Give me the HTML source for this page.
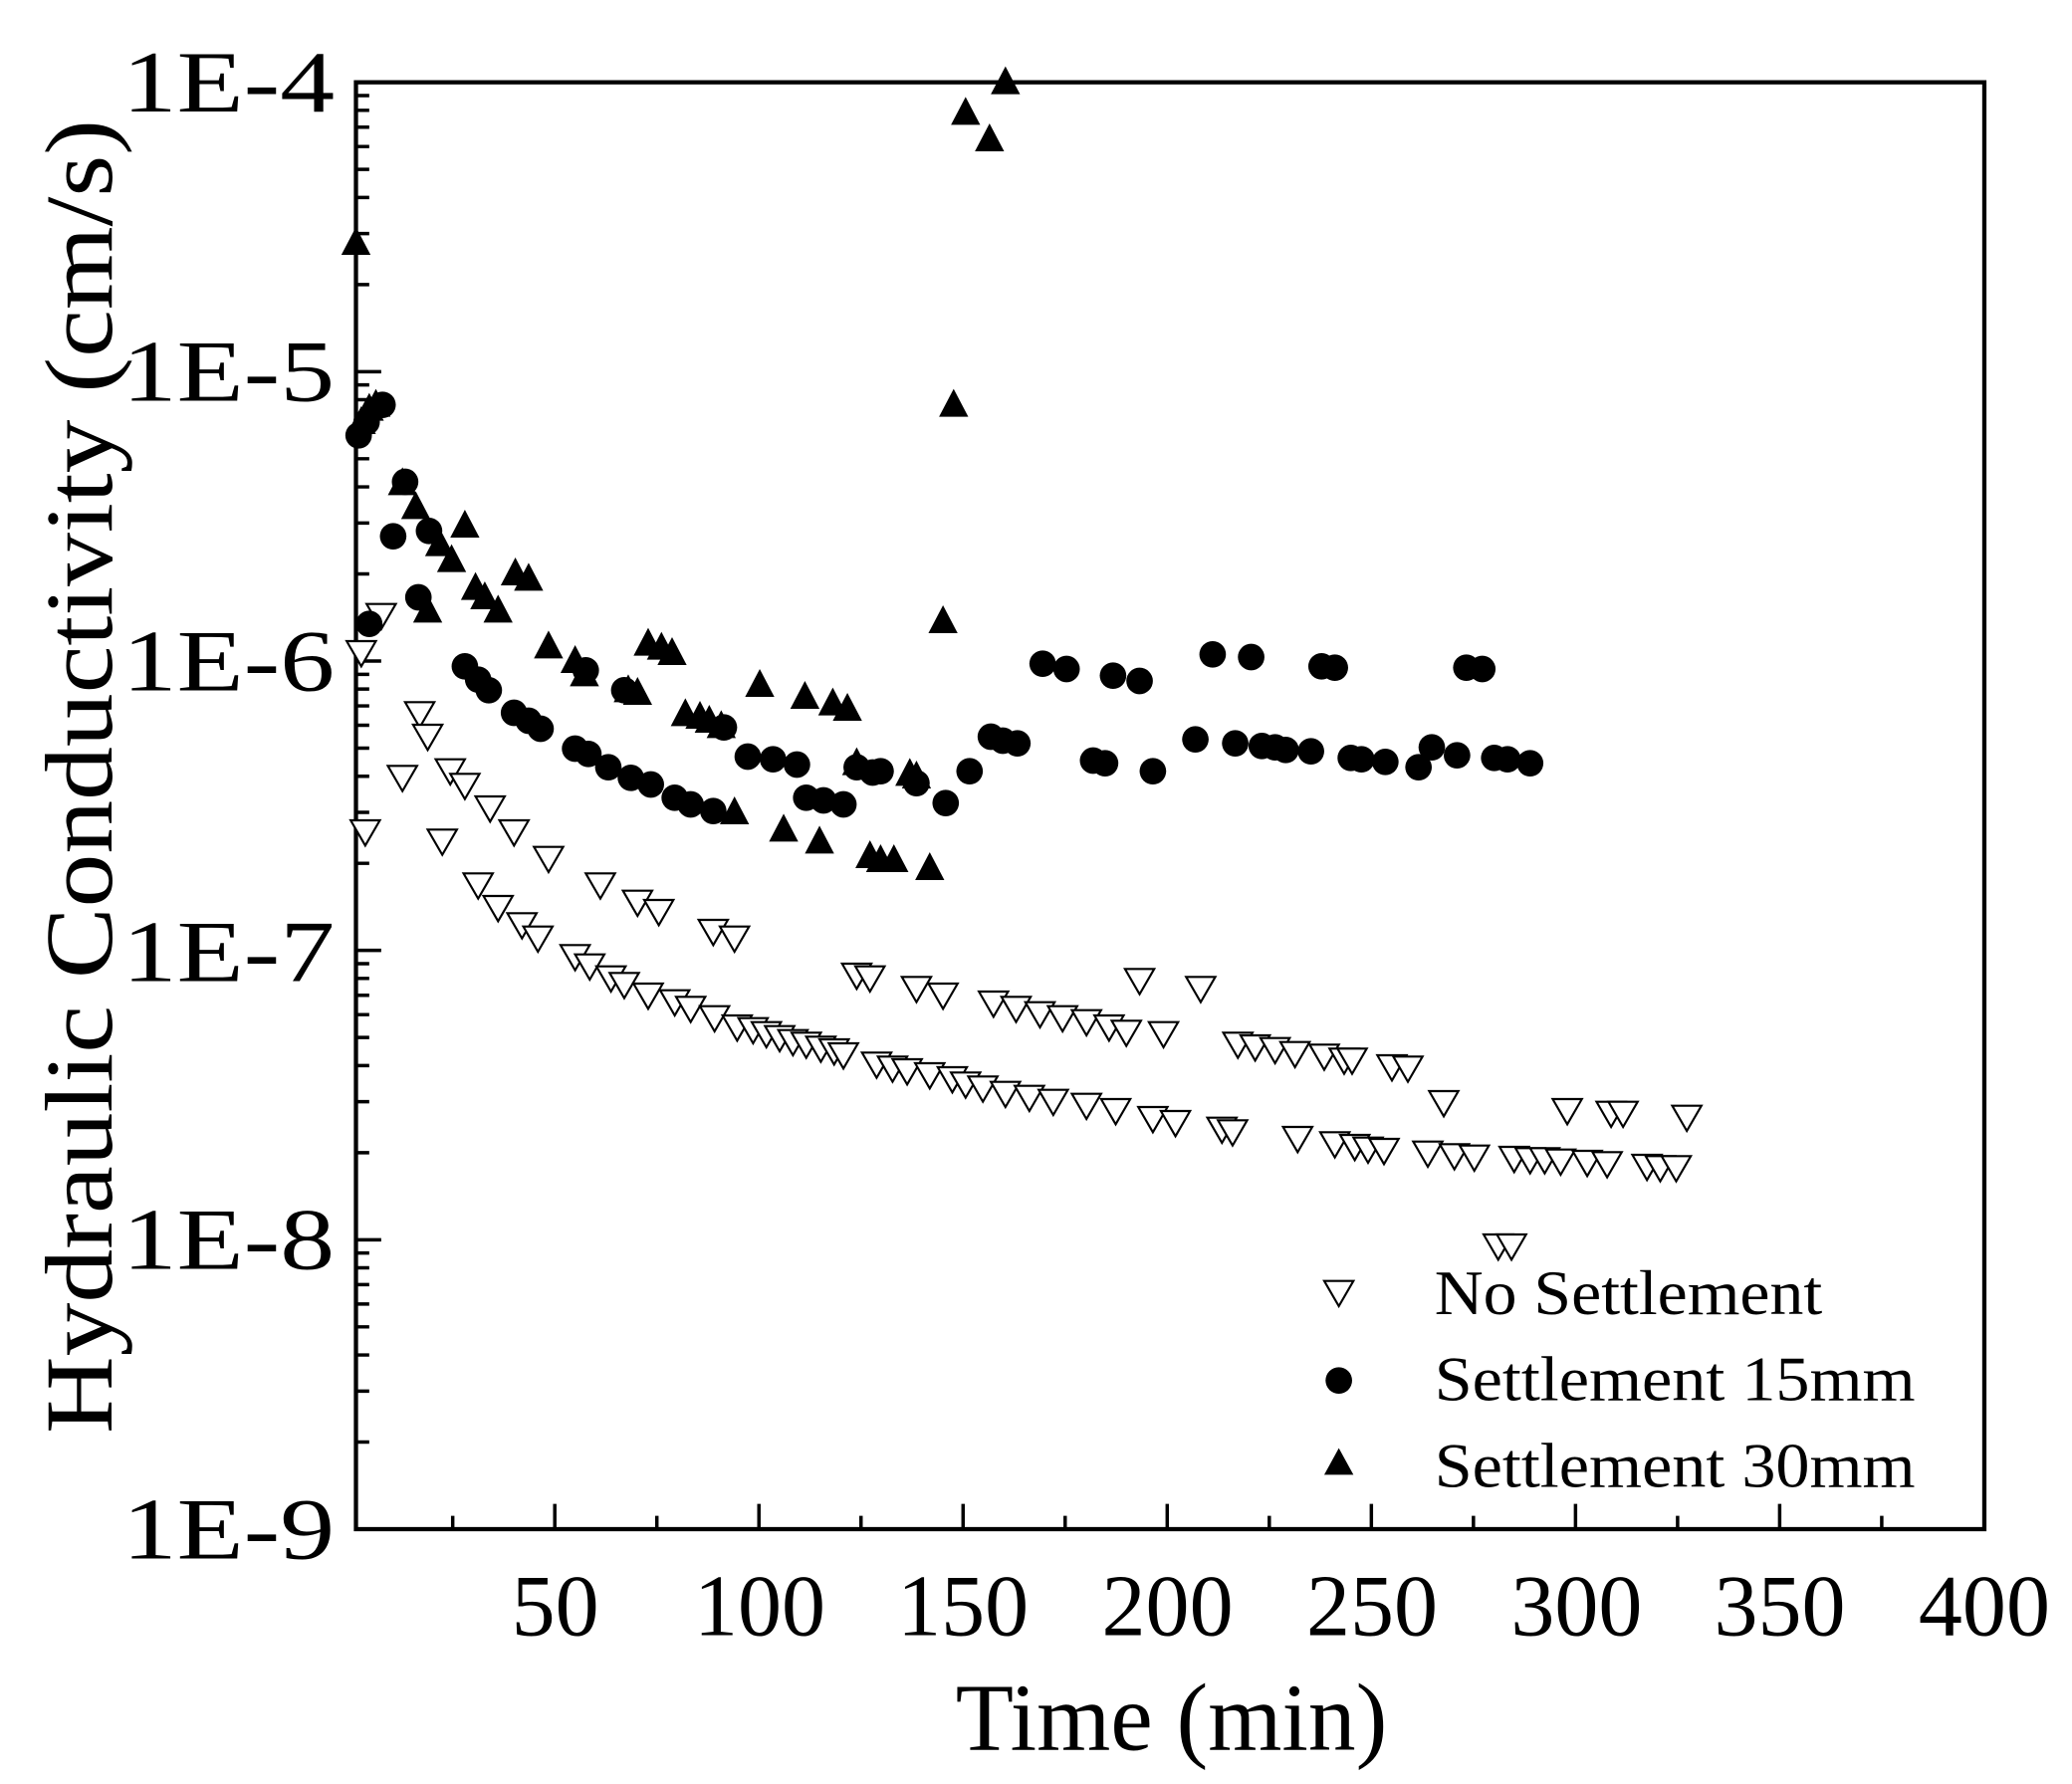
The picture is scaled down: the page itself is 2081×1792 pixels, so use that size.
<!DOCTYPE html>
<html><head><meta charset="utf-8"><style>html,body{margin:0;padding:0;background:#fff;}svg{display:block}</style></head>
<body>
<svg width="2081" height="1792" viewBox="0 0 1560 1344" preserveAspectRatio="none" xmlns="http://www.w3.org/2000/svg" font-family="Liberation Serif, serif">
<defs>
<marker id="mdt" markerUnits="userSpaceOnUse" markerWidth="30" markerHeight="30" refX="15" refY="15" viewBox="0 0 30 30" overflow="visible"><polygon points="4,8 26,8 15,27" fill="#fff" stroke="#000" stroke-width="1.6"/></marker>
<marker id="mut" markerUnits="userSpaceOnUse" markerWidth="30" markerHeight="30" refX="15" refY="15" viewBox="0 0 30 30" overflow="visible"><polygon points="4,24 26,24 15,3" fill="#000"/></marker>
<marker id="mc" markerUnits="userSpaceOnUse" markerWidth="30" markerHeight="30" refX="15" refY="15" viewBox="0 0 30 30" overflow="visible"><circle cx="15" cy="15" r="10" fill="#000"/></marker>
</defs>
<rect x="268" y="62" width="1226" height="1090" fill="none" stroke="#000" stroke-width="3.2"/>
<path stroke="#000" stroke-width="2.6" fill="none" d="
M340.85,1152v-10 M417.7,1152v-19 M494.55,1152v-10 M571.4,1152v-19 M648.25,1152v-10 M725.1,1152v-19 M801.95,1152v-10 M878.8,1152v-19 M955.65,1152v-10 M1032.5,1152v-19 M1109.35,1152v-10 M1186.2,1152v-19 M1263.05,1152v-10 M1339.9,1152v-19 M1416.75,1152v-10
M268,934h19 M268,716h19 M268,498h19 M268,280h19
M268,1086.4h10 M268,1048h10 M268,1020.8h10 M268,999.6h10 M268,982.4h10 M268,967.8h10 M268,955.1h10 M268,944h10
M268,868.4h10 M268,830h10 M268,802.8h10 M268,781.6h10 M268,764.4h10 M268,749.8h10 M268,737.1h10 M268,726h10
M268,650.4h10 M268,612h10 M268,584.8h10 M268,563.6h10 M268,546.4h10 M268,531.8h10 M268,519.1h10 M268,508h10
M268,432.4h10 M268,394h10 M268,366.8h10 M268,345.6h10 M268,328.4h10 M268,313.8h10 M268,301.1h10 M268,290h10
M268,214.4h10 M268,176h10 M268,148.8h10 M268,127.6h10 M268,110.4h10 M268,95.8h10 M268,83.1h10 M268,72h10"/>
<polyline fill="none" stroke="none" marker-start="url(#mdt)" marker-mid="url(#mdt)" marker-end="url(#mdt)" points="275,625 272,490 287,462 303,584 316,536 322,553 339,579 350,590 369,607 387,625 413,645 452,665 480,678 496,685 537,700 553,705 645,733 655,735 690,743 710,748 748,754 765,758 783,762 800,765 818,768 835,772 848,776 858,737 876,777 904,743 932,785 945,787 960,789 975,792 997,794 1012,797 1018,797 1048,802 1060,803 1087,829 1128,937 1138,937 1180,835 1213,837 1222,837 1270,840 333,632 360,665 375,682 393,695 405,705 433,719 444,726 460,735 470,740 488,748 508,753 520,758 538,765 555,772 567,774 577,777 587,780 597,783 607,785 618,788 628,790 635,793 660,800 672,803 683,805 700,808 717,811 727,815 740,818 757,822 775,825 793,828 818,831 840,835 868,841 885,844 920,849 928,851 977,856 1005,860 1020,862 1030,864 1042,865 1075,867 1095,869 1110,870 1140,871 1152,872 1163,872 1175,873 1195,874 1210,875 1240,877 1250,878 1262,878"/>
<polyline fill="none" stroke="none" marker-start="url(#mc)" marker-mid="url(#mc)" marker-end="url(#mc)" points="270,328 276,318 288,305 278,470 296,404 305,363 315,450 323,400 350,502 360,512 368,520 387,537 398,543 407,549 433,564 441,505 443,568 458,578 470,520 475,586 490,591 508,601 520,606 537,611 545,548 563,570 582,572 600,576 607,601 620,603 635,606 645,578 657,582 663,581 690,590 712,605 730,581 746,555 755,558 766,560 785,500 803,504 823,573 832,575 838,509 858,513 868,581 900,557 913,493 930,560 942,495 950,562 960,563 968,565 987,566 995,502 1005,503 1017,571 1025,572 1043,574 1068,578 1078,563 1097,569 1104,503 1116,504 1125,571 1135,572 1152,575"/>
<polyline fill="none" stroke="none" marker-start="url(#mut)" marker-mid="url(#mut)" marker-end="url(#mut)" points="268,183 272,318 278,308 283,305 303,364 313,382 322,460 331,410 340,422 350,396 358,443 365,450 375,460 388,432 398,436 413,487 433,498 440,508 473,520 480,522 488,485 498,488 506,492 516,538 527,540 534,543 543,547 553,612 572,516 590,625 606,525 617,634 627,530 638,534 645,575 655,645 663,648 673,648 685,583 690,585 700,654 710,468 718,305 727,85 745,105 757,62"/>
<g font-size="66" text-anchor="end">
<text x="252" y="84" textLength="160" lengthAdjust="spacingAndGlyphs">1E-4</text>
<text x="252" y="302" textLength="160" lengthAdjust="spacingAndGlyphs">1E-5</text>
<text x="252" y="520" textLength="160" lengthAdjust="spacingAndGlyphs">1E-6</text>
<text x="252" y="739" textLength="160" lengthAdjust="spacingAndGlyphs">1E-7</text>
<text x="252" y="956" textLength="160" lengthAdjust="spacingAndGlyphs">1E-8</text>
<text x="252" y="1174" textLength="160" lengthAdjust="spacingAndGlyphs">1E-9</text>
</g>
<g font-size="66" text-anchor="middle">
<text x="418" y="1232">50</text>
<text x="572" y="1232">100</text>
<text x="725" y="1232">150</text>
<text x="879" y="1232">200</text>
<text x="1033" y="1232">250</text>
<text x="1187" y="1232">300</text>
<text x="1340" y="1232">350</text>
<text x="1494" y="1232">400</text>
</g>
<text x="882" y="1318" font-size="72" text-anchor="middle" textLength="325" lengthAdjust="spacingAndGlyphs">Time (min)</text>
<text transform="translate(84,585) rotate(-90)" font-size="72" text-anchor="middle" textLength="990" lengthAdjust="spacingAndGlyphs">Hydraulic Conductivity (cm/s)</text>
<polygon points="997,965 1019,965 1008,984" fill="#fff" stroke="#000" stroke-width="1.6"/>
<circle cx="1008" cy="1040" r="10" fill="#000"/>
<polygon points="997,1111 1019,1111 1008,1091" fill="#000"/>
<g font-size="48">
<text x="1080" y="990" textLength="292" lengthAdjust="spacingAndGlyphs">No Settlement</text>
<text x="1080" y="1055" textLength="362" lengthAdjust="spacingAndGlyphs">Settlement 15mm</text>
<text x="1080" y="1120" textLength="362" lengthAdjust="spacingAndGlyphs">Settlement 30mm</text>
</g>
</svg>
</body></html>
